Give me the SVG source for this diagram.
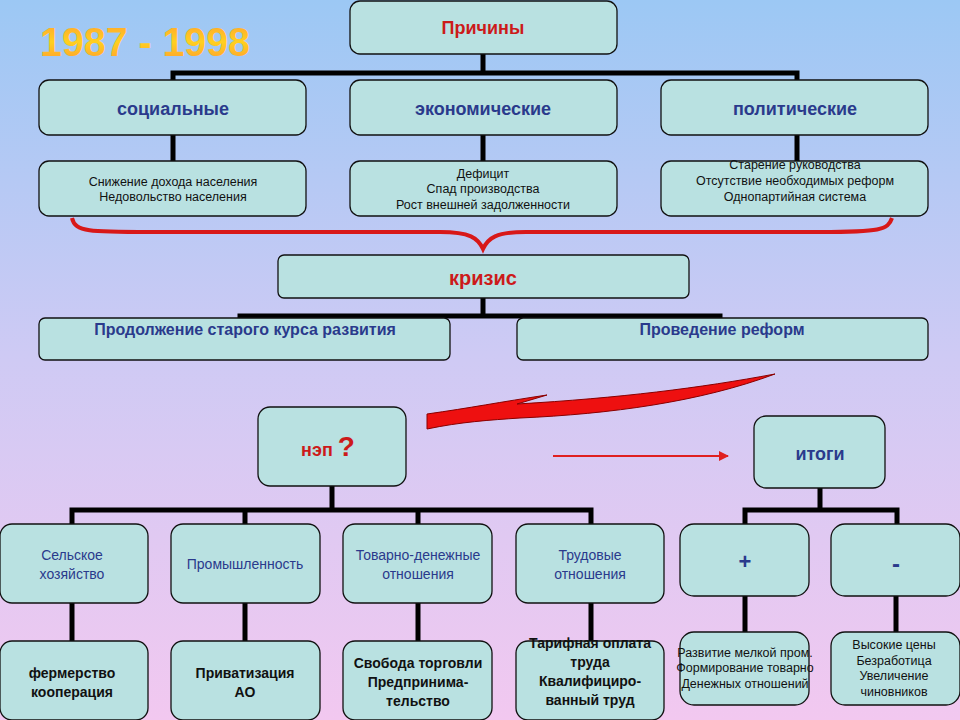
<svg xmlns="http://www.w3.org/2000/svg" width="960" height="720" viewBox="0 0 960 720">
<defs>
<linearGradient id="bg" x1="0" y1="0" x2="0" y2="1"><stop offset="0" stop-color="#9cc8f4"/><stop offset="0.5" stop-color="#cfcaf4"/><stop offset="1" stop-color="#f2c8f0"/></linearGradient>
<linearGradient id="tg" x1="0" y1="0" x2="0" y2="1"><stop offset="0" stop-color="#ffa030"/><stop offset="0.5" stop-color="#ffd020"/><stop offset="1" stop-color="#ff9a30"/></linearGradient>
<marker id="ah" viewBox="0 0 10 10" refX="9" refY="5" markerWidth="5" markerHeight="5" orient="auto"><path d="M0,0L10,5L0,10Z" fill="#e02020"/></marker>
</defs>
<style>
.b{fill:#b9e1e1;stroke:#111;stroke-width:1.3}
.h{font-family:"Liberation Sans",Arial,sans-serif;font-weight:bold;fill:#2a3a8c;text-anchor:middle}
.n{font-family:"Liberation Sans",Arial,sans-serif;font-size:14px;fill:#2a3a8c;text-anchor:middle}
.r{font-family:"Liberation Sans",Arial,sans-serif;font-weight:bold;fill:#cc1a1a;text-anchor:middle}
.s{font-family:"Liberation Sans",Arial,sans-serif;font-size:12.5px;fill:#111;text-anchor:middle}
.k{font-family:"Liberation Sans",Arial,sans-serif;font-size:14px;font-weight:bold;fill:#111;text-anchor:middle}
.l{fill:none;stroke:#000;stroke-width:5}
</style>
<rect width="960" height="720" fill="url(#bg)"/>
<text x="40" y="56" font-family="Liberation Sans,Arial,sans-serif" font-size="40" font-weight="bold" fill="url(#tg)" textLength="210" lengthAdjust="spacingAndGlyphs">1987 - 1998</text>
<g id="connectors">
<path class="l" d="M483,54V73M173,80V73H797V80M173,135V161M483,135V161M797,135V161"/>
<path class="l" d="M483,298V316M240,318V316H720V318"/>
<path class="l" d="M332,486V510M72,524V510H591V524M245,510V524M418,510V524"/>
<path class="l" d="M72,603V641M245,603V641M418,603V641M591,603V641"/>
<path class="l" d="M820,488V510M745,524V510H897V524M745,596V632M896,596V632"/>
<path d="M72,218C75,232 90,232 150,232H440C470,232 478,238 483,249C488,238 496,232 526,232H820C880,232 888,230 892,218" fill="none" stroke="#d81818" stroke-width="4"/>
<path d="M427,429L427,414C470,408 500,402 547,395L517,404C620,398 700,388 775,374C700,402 610,414 520,418C490,420 460,422 427,429Z" fill="#ee1010" stroke="#800" stroke-width="1"/>
<line x1="553" y1="456" x2="728" y2="456" stroke="#e02020" stroke-width="2" marker-end="url(#ah)"/>
</g>
<g id="prichiny"><rect class="b" x="350" y="1" width="267" height="53" rx="10"/><text class="r" x="483" y="34" font-size="18">Причины</text></g>
<g id="soc"><rect class="b" x="39" y="80" width="267" height="55" rx="10"/><text class="h" x="173" y="115" font-size="18">социальные</text></g>
<g id="eco"><rect class="b" x="350" y="80" width="267" height="55" rx="10"/><text class="h" x="483" y="115" font-size="18">экономические</text></g>
<g id="pol"><rect class="b" x="661" y="80" width="267" height="55" rx="10"/><text class="h" x="795" y="115" font-size="18">политические</text></g>
<g id="soc2"><rect class="b" x="39" y="161" width="267" height="55" rx="10"/><text class="s" x="173" y="186">Снижение дохода населения</text><text class="s" x="173" y="201">Недовольство населения</text></g>
<g id="eco2"><rect class="b" x="350" y="161" width="267" height="55" rx="10"/><text class="s" x="483" y="178">Дефицит</text><text class="s" x="483" y="193">Спад производства</text><text class="s" x="483" y="209">Рост внешней задолженности</text></g>
<g id="pol2"><rect class="b" x="661" y="161" width="267" height="55" rx="10"/><text class="s" x="795" y="169">Старение руководства</text><text class="s" x="795" y="185">Отсутствие необходимых реформ</text><text class="s" x="795" y="201">Однопартийная система</text></g>
<g id="krizis"><rect class="b" x="278" y="255" width="411" height="43" rx="6"/><text class="r" x="483" y="285" font-size="20">кризис</text></g>
<g id="old"><rect class="b" x="39" y="318" width="411" height="42" rx="6"/><text class="h" x="245" y="335" font-size="16">Продолжение старого курса развития</text></g>
<g id="reform"><rect class="b" x="517" y="318" width="411" height="42" rx="6"/><text class="h" x="722" y="335" font-size="16">Проведение реформ</text></g>
<g id="nep"><rect class="b" x="258" y="407" width="148" height="79" rx="12"/><text class="r" x="328" y="456" font-size="18">нэп <tspan font-size="28">?</tspan></text></g>
<g id="itogi"><rect class="b" x="754" y="416" width="131" height="72" rx="12"/><text class="h" x="820" y="460" font-size="18">итоги</text></g>
<g id="selsk"><rect class="b" x="0" y="524" width="148" height="79" rx="12"/><text class="n" x="72" y="560">Сельское</text><text class="n" x="72" y="579">хозяйство</text></g>
<g id="prom"><rect class="b" x="171" y="524" width="149" height="79" rx="12"/><text class="n" x="245" y="569">Промышленность</text></g>
<g id="tov"><rect class="b" x="343" y="524" width="149" height="79" rx="12"/><text class="n" x="418" y="560">Товарно-денежные</text><text class="n" x="418" y="579">отношения</text></g>
<g id="trud"><rect class="b" x="516" y="524" width="148" height="79" rx="12"/><text class="n" x="590" y="560">Трудовые</text><text class="n" x="590" y="579">отношения</text></g>
<g id="ferm"><rect class="b" x="0" y="641" width="148" height="79" rx="12"/><text class="k" x="72" y="678">фермерство</text><text class="k" x="72" y="697">кооперация</text></g>
<g id="priv"><rect class="b" x="171" y="641" width="149" height="79" rx="12"/><text class="k" x="245" y="678">Приватизация</text><text class="k" x="245" y="697">АО</text></g>
<g id="svob"><rect class="b" x="343" y="641" width="149" height="79" rx="12"/><text class="k" x="418" y="668">Свобода торговли</text><text class="k" x="418" y="687">Предпринима-</text><text class="k" x="418" y="706">тельство</text></g>
<g id="tarif"><rect class="b" x="516" y="641" width="148" height="79" rx="12"/><text class="k" x="590" y="648">Тарифная оплата</text><text class="k" x="590" y="667">труда</text><text class="k" x="590" y="686">Квалифициро-</text><text class="k" x="590" y="705">ванный труд</text></g>
<g id="plus"><rect class="b" x="680" y="524" width="129" height="72" rx="14"/><text class="h" x="745" y="569" font-size="22">+</text></g>
<g id="minus"><rect class="b" x="831" y="524" width="129" height="72" rx="14"/><text class="h" x="896" y="572" font-size="24">-</text></g>
<g id="plus2"><rect class="b" x="680" y="632" width="129" height="73" rx="14"/><text class="s" x="745" y="657">Развитие мелкой пром.</text><text class="s" x="745" y="672">Формирование товарно</text><text class="s" x="745" y="688">Денежных отношений</text></g>
<g id="minus2"><rect class="b" x="831" y="632" width="129" height="73" rx="14"/><text class="s" x="894" y="649">Высокие цены</text><text class="s" x="894" y="665">Безработица</text><text class="s" x="894" y="680">Увеличение</text><text class="s" x="894" y="696">чиновников</text></g>
</svg>
